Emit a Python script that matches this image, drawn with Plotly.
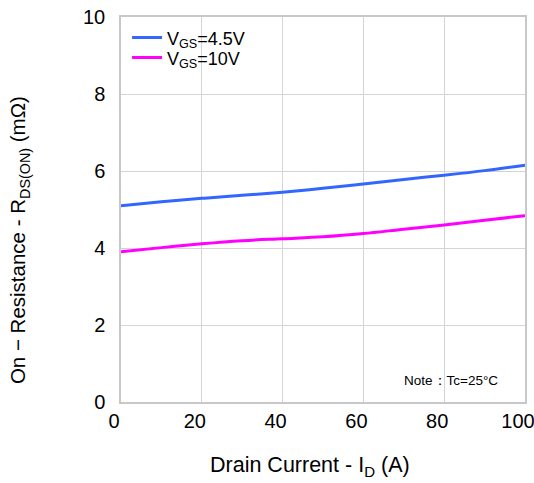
import plotly.graph_objects as go

current = [0, 10, 20, 30, 40, 50, 60, 70, 80, 90, 100]
r_vgs45 = [5.10, 5.20, 5.29, 5.37, 5.45, 5.55, 5.66, 5.78, 5.89, 6.01, 6.15]
r_vgs10 = [3.90, 4.01, 4.11, 4.19, 4.24, 4.29, 4.375, 4.49, 4.60, 4.72, 4.84]
x_ticks = [0, 20, 40, 60, 80, 100]
y_ticks = [0, 2, 4, 6, 8, 10]

FONT = "Liberation Sans, Arial, sans-serif"

fig = go.Figure()
fig.add_trace(go.Scatter(x=current, y=r_vgs45, mode="lines", name="V<sub>GS</sub>=4.5V",
                         line=dict(color="#3366FF", width=3, shape="spline"), legend="legend"))
fig.add_trace(go.Scatter(x=current, y=r_vgs10, mode="lines", name="V<sub>GS</sub>=10V",
                         line=dict(color="#FF00FF", width=3, shape="spline"), legend="legend2"))

fig.add_annotation(x=0.938, y=0.03, xref="paper", yref="paper", xanchor="right", yanchor="bottom",
                   text="Note：Tc=25°C", showarrow=False, font=dict(size=13.5, color="#000000", family=FONT))

# axis titles (placed as annotations to match the reference offsets)
fig.add_annotation(x=0.468, y=-0.168, xref="paper", yref="paper", xanchor="center", yanchor="middle",
                   text="Drain Current - I<sub>D</sub> (A)", showarrow=False,
                   font=dict(size=21.5, color="#000000", family=FONT))
fig.add_annotation(x=-0.252, y=0.421, xref="paper", yref="paper", xanchor="center", yanchor="middle",
                   text="On − Resistance - R<sub>DS(ON)</sub> (mΩ)", showarrow=False, textangle=-90,
                   font=dict(size=20.5, color="#000000", family=FONT))

axis_common = dict(showgrid=True, gridcolor="#D4D4D4", gridwidth=1, showline=True, linecolor="#C8C8C8",
                   linewidth=1.5, mirror=True, zeroline=False, ticks="", automargin=False,
                   ticklabeloverflow="allow",
                   tickfont=dict(size=20, color="#000000", family=FONT))

legend_common = dict(xanchor="left", yanchor="top", bgcolor="rgba(0,0,0,0)",
                     font=dict(size=18, color="#000000", family=FONT))

fig.update_layout(
    width=534, height=483,
    margin=dict(l=121, r=9, t=17, b=81),
    paper_bgcolor="white", plot_bgcolor="white",
    font=dict(family=FONT, color="#000000"),
    showlegend=True,
    legend=dict(x=0.015, y=0.994, **legend_common),
    legend2=dict(x=0.015, y=0.942, **legend_common),
    xaxis=dict(range=[0, 100], tickvals=x_ticks, ticktext=[str(v) for v in x_ticks],
               ticklabelshift=-7, **axis_common),
    yaxis=dict(range=[0, 10], tickvals=y_ticks, ticktext=[str(v) for v in y_ticks],
               ticklabelstandoff=10, **axis_common),
)

fig.write_html("out.html")
